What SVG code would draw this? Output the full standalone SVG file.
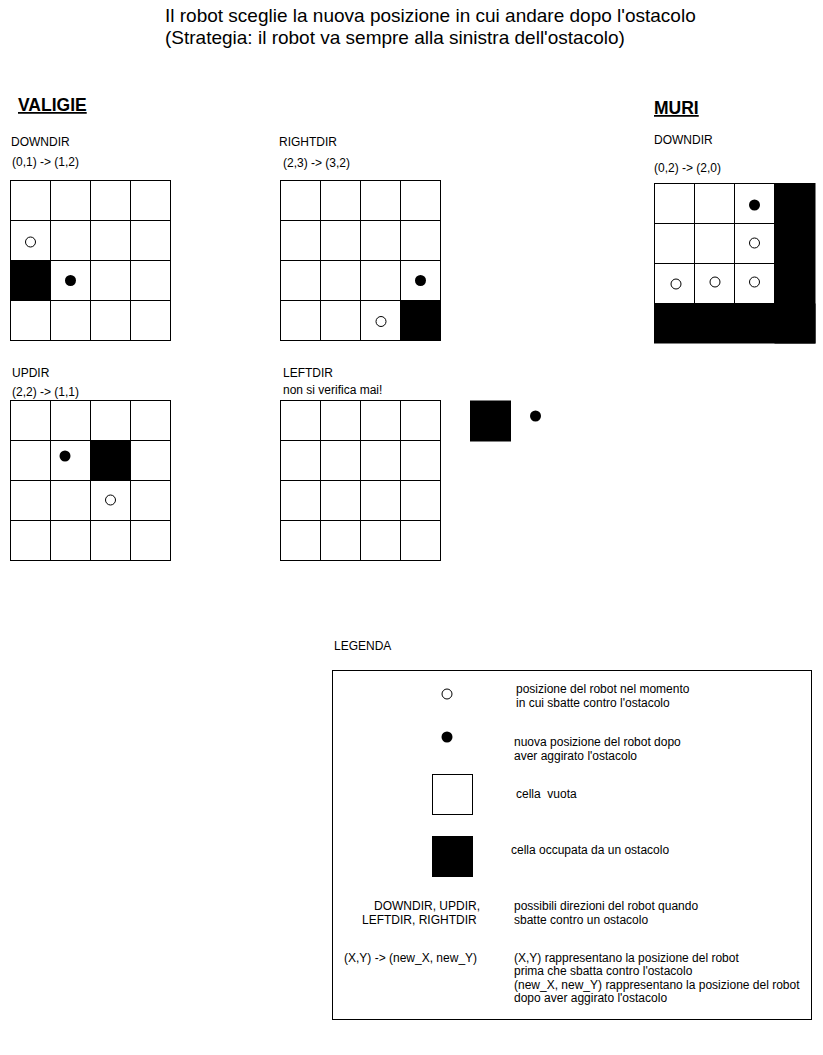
<svg xmlns="http://www.w3.org/2000/svg" width="823" height="1055" viewBox="0 0 823 1055">
<defs>
<style>
text{font-family:"Liberation Sans",Arial,sans-serif;fill:#000}
.t{font-size:19px}
.s{font-size:12px}
.h{font-size:17.5px;font-weight:bold;text-decoration:underline}
.c{fill:#fff;stroke:#000;stroke-width:1}
.k{fill:#000;stroke:#000;stroke-width:1}
.o{fill:#fff;stroke:#000;stroke-width:1}
.f{fill:#000}
</style>
<g id="grid4">
<rect class="c" x="0" y="0" width="40" height="40"/><rect class="c" x="40" y="0" width="40" height="40"/><rect class="c" x="80" y="0" width="40" height="40"/><rect class="c" x="120" y="0" width="40" height="40"/>
<rect class="c" x="0" y="40" width="40" height="40"/><rect class="c" x="40" y="40" width="40" height="40"/><rect class="c" x="80" y="40" width="40" height="40"/><rect class="c" x="120" y="40" width="40" height="40"/>
<rect class="c" x="0" y="80" width="40" height="40"/><rect class="c" x="40" y="80" width="40" height="40"/><rect class="c" x="80" y="80" width="40" height="40"/><rect class="c" x="120" y="80" width="40" height="40"/>
<rect class="c" x="0" y="120" width="40" height="40"/><rect class="c" x="40" y="120" width="40" height="40"/><rect class="c" x="80" y="120" width="40" height="40"/><rect class="c" x="120" y="120" width="40" height="40"/>
</g>
</defs>
<rect width="823" height="1055" fill="#fff"/>

<g id="title">
<text class="t" x="165" y="22">Il robot sceglie la nuova posizione in cui andare dopo l'ostacolo</text>
<text class="t" x="165" y="44">(Strategia: il robot va sempre alla sinistra dell'ostacolo)</text>
</g>

<g id="valigie-label"><text class="h" x="18" y="111">VALIGIE</text></g>
<g id="muri-label"><text class="h" x="654" y="114">MURI</text></g>

<g id="valigie-downdir">
<text class="s" x="11" y="146">DOWNDIR</text>
<text class="s" x="12" y="166">(0,1) -&gt; (1,2)</text>
<use href="#grid4" x="10.5" y="180.5"/>
<rect class="k" x="10.5" y="260.5" width="40" height="40"/>
<circle class="o" cx="30.5" cy="242" r="5"/>
<circle class="f" cx="70.5" cy="280.5" r="5.5"/>
</g>

<g id="valigie-rightdir">
<text class="s" x="279" y="146">RIGHTDIR</text>
<text class="s" x="283" y="167">(2,3) -&gt; (3,2)</text>
<use href="#grid4" x="280.5" y="180.5"/>
<rect class="k" x="400.5" y="300.5" width="40" height="40"/>
<circle class="f" cx="420.5" cy="280.5" r="5.5"/>
<circle class="o" cx="381" cy="321.5" r="5"/>
</g>

<g id="valigie-updir">
<text class="s" x="12" y="377">UPDIR</text>
<text class="s" x="12" y="396">(2,2) -&gt; (1,1)</text>
<use href="#grid4" x="10.5" y="400.5"/>
<rect class="k" x="90.5" y="440.5" width="40" height="40"/>
<circle class="f" cx="65" cy="456" r="5.5"/>
<circle class="o" cx="110.5" cy="500" r="5"/>
</g>

<g id="valigie-leftdir">
<text class="s" x="283" y="377">LEFTDIR</text>
<text class="s" x="283" y="394">non si verifica mai!</text>
<use href="#grid4" x="280.5" y="400.5"/>
</g>

<g id="leftdir-example">
<rect class="k" x="470.5" y="401" width="40" height="40"/>
<circle class="f" cx="535.5" cy="416" r="5.5"/>
</g>

<g id="muri-downdir">
<text class="s" x="654" y="144">DOWNDIR</text>
<text class="s" x="654" y="172">(0,2) -&gt; (2,0)</text>
<rect class="c" x="654.5" y="183.5" width="40" height="40"/><rect class="c" x="694.5" y="183.5" width="40" height="40"/><rect class="c" x="734.5" y="183.5" width="40" height="40"/>
<rect class="c" x="654.5" y="223.5" width="40" height="40"/><rect class="c" x="694.5" y="223.5" width="40" height="40"/><rect class="c" x="734.5" y="223.5" width="40" height="40"/>
<rect class="c" x="654.5" y="263.5" width="40" height="40"/><rect class="c" x="694.5" y="263.5" width="40" height="40"/><rect class="c" x="734.5" y="263.5" width="40" height="40"/>
<rect class="f" x="774.5" y="183" width="41" height="160.5"/>
<rect class="f" x="654" y="303.5" width="161.5" height="40"/>
<circle class="f" cx="754.5" cy="205" r="5.5"/>
<circle class="o" cx="754.5" cy="243" r="5"/>
<circle class="o" cx="676" cy="284" r="5"/>
<circle class="o" cx="715" cy="282" r="5"/>
<circle class="o" cx="754.5" cy="282" r="5"/>
</g>

<g id="legenda">
<text class="s" x="334" y="650">LEGENDA</text>
<rect x="332.5" y="670.5" width="479" height="349" fill="#fff" stroke="#000" stroke-width="1"/>
<circle class="o" cx="447" cy="694" r="5"/>
<text class="s" x="516" y="693">posizione del robot nel momento</text>
<text class="s" x="516" y="707">in cui sbatte contro l'ostacolo</text>
<circle class="f" cx="447" cy="737" r="5.5"/>
<text class="s" x="514" y="746">nuova posizione del robot dopo</text>
<text class="s" x="514" y="760">aver aggirato l'ostacolo</text>
<rect class="c" x="432.5" y="774.5" width="40" height="40"/>
<text class="s" x="516" y="798" xml:space="preserve">cella  vuota</text>
<rect class="k" x="432.5" y="836.5" width="40" height="40"/>
<text class="s" x="511" y="854">cella occupata da un ostacolo</text>
<text class="s" x="374" y="910">DOWNDIR, UPDIR,</text>
<text class="s" x="362" y="924">LEFTDIR, RIGHTDIR</text>
<text class="s" x="514" y="910">possibili direzioni del robot quando</text>
<text class="s" x="514" y="924">sbatte contro un ostacolo</text>
<text class="s" x="344" y="962">(X,Y) -&gt; (new_X, new_Y)</text>
<text class="s" x="514" y="962">(X,Y) rappresentano la posizione del robot</text>
<text class="s" x="514" y="975">prima che sbatta contro l'ostacolo</text>
<text class="s" x="514" y="989">(new_X, new_Y) rappresentano la posizione del robot</text>
<text class="s" x="514" y="1002">dopo aver aggirato l'ostacolo</text>
</g>
<g id="connectors"/>
</svg>
